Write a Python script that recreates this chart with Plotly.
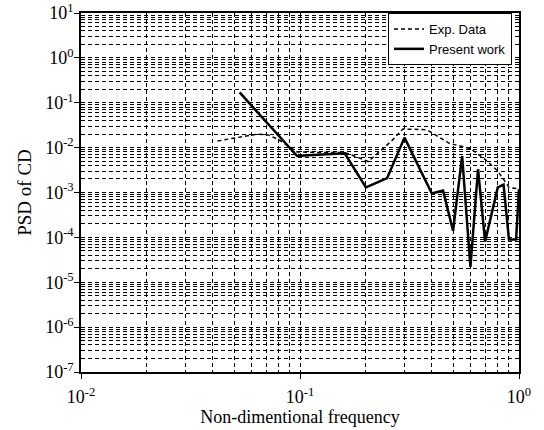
import plotly.graph_objects as go

# Experimental power spectral density of the drag coefficient
freq_exp = [0.042, 0.048, 0.056, 0.064, 0.072, 0.08, 0.088, 0.097, 0.12, 0.16,
            0.185, 0.205, 0.26, 0.295, 0.38, 0.48, 0.6, 0.7, 0.8, 0.9, 1.0]
psd_exp = [0.014, 0.016, 0.018, 0.020, 0.019, 0.015, 0.011, 0.008, 0.0078, 0.0078,
           0.006, 0.0049, 0.0136, 0.026, 0.025, 0.0125, 0.0095, 0.0055, 0.003, 0.0013, 0.0012]

# Computed spectrum (present work)
freq_present = [0.053, 0.097, 0.11, 0.13, 0.16, 0.2, 0.25, 0.3, 0.4, 0.45, 0.5, 0.55,
                0.6, 0.65, 0.7, 0.8, 0.85, 0.9, 0.97, 1.0]
psd_present = [0.17, 0.0065, 0.0068, 0.0072, 0.0075, 0.0013, 0.0021, 0.0167, 0.00095,
               0.0011, 0.00014, 0.0065, 0.000022, 0.0033, 0.00008, 0.0013, 0.0015,
               0.00009, 0.00009, 0.0012]

x_ticks = [1e-2, 1e-1, 1e0]
x_ticktext = ["10<sup>-2</sup>", "10<sup>-1</sup>", "10<sup>0</sup>"]
y_ticks = [1e-7, 1e-6, 1e-5, 1e-4, 1e-3, 1e-2, 1e-1, 1e0, 1e1]
y_ticktext = ["10<sup>-7</sup>", "10<sup>-6</sup>", "10<sup>-5</sup>", "10<sup>-4</sup>",
              "10<sup>-3</sup>", "10<sup>-2</sup>", "10<sup>-1</sup>", "10<sup>0</sup>",
              "10<sup>1</sup>"]

GRID_DASH = "4px,3px"

fig = go.Figure()
fig.add_trace(go.Scatter(
    x=freq_exp, y=psd_exp, mode="lines", name="Exp. Data",
    line=dict(color="black", width=1.5, dash="4px,3px"),
))
fig.add_trace(go.Scatter(
    x=freq_present, y=psd_present, mode="lines", name="Present work",
    line=dict(color="black", width=2.5),
))

axis_common = dict(
    type="log", automargin=False,
    showline=True, linecolor="black", linewidth=1.5, mirror=True,
    ticks="outside", ticklen=5, tickcolor="black", tickwidth=1.2,
    showgrid=True, gridcolor="black", gridwidth=1, griddash=GRID_DASH,
    zeroline=False,
    tickfont=dict(family="Liberation Serif", size=18, color="black"),
    minor=dict(dtick="D1", showgrid=True, gridcolor="black", gridwidth=1,
               griddash=GRID_DASH, ticks=""),
)

fig.update_xaxes(
    **axis_common,
    range=[-2, 0], tickvals=x_ticks, ticktext=x_ticktext,
    ticklabelstandoff=3,
    title=dict(text="Non-dimentional frequency", standoff=4,
               font=dict(family="Liberation Serif", size=18, color="black")),
)
fig.update_yaxes(
    **axis_common,
    range=[-7, 1], tickvals=y_ticks, ticktext=y_ticktext,
    ticklabelstandoff=-3,
    title=dict(text="PSD of CD", standoff=9,
               font=dict(family="Liberation Serif", size=19, color="black")),
)

fig.update_layout(
    width=544, height=430,
    margin=dict(l=81, r=25, t=13, b=58),
    paper_bgcolor="white", plot_bgcolor="white",
    showlegend=True,
    legend=dict(
        x=0.984, xanchor="right", y=1.0, yanchor="top",
        bgcolor="white", bordercolor="black", borderwidth=1,
        font=dict(family="Liberation Sans", size=13, color="black"),
        tracegroupgap=0, itemwidth=30,
    ),
)

fig.write_html("out.html")
